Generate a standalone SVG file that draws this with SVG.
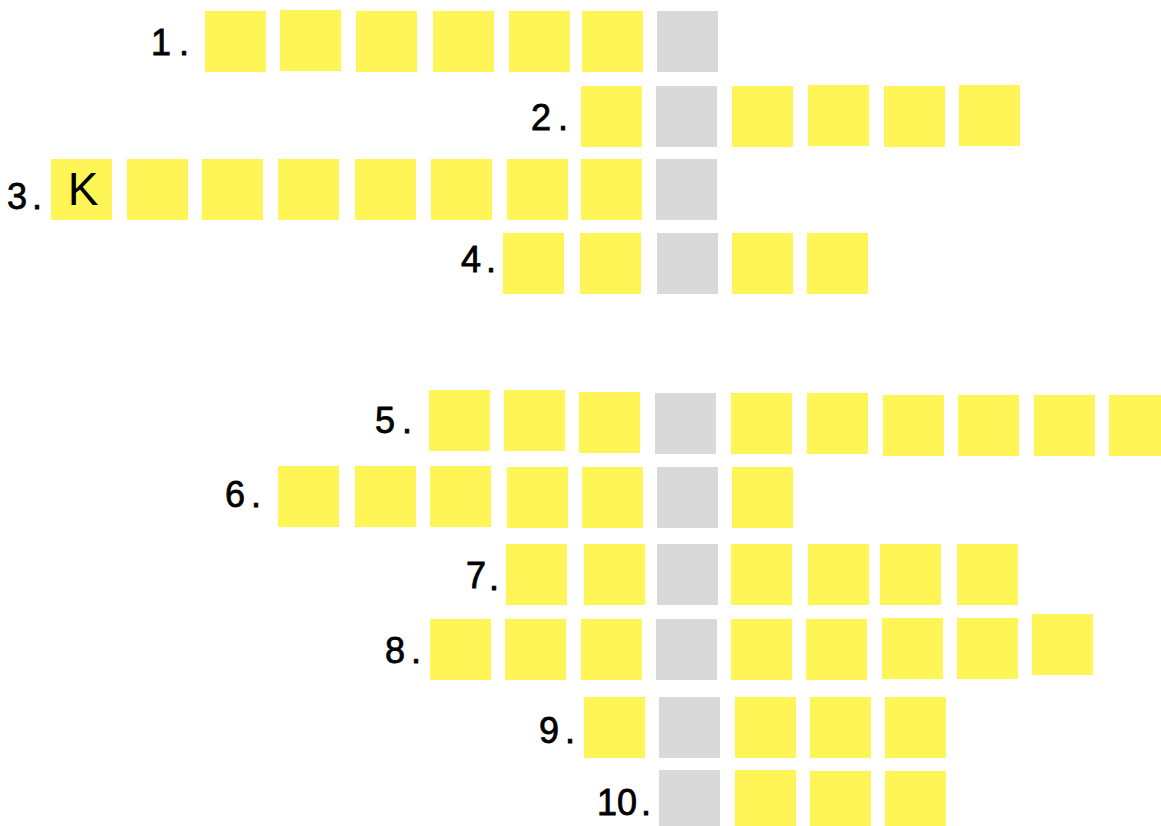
<svg xmlns="http://www.w3.org/2000/svg" width="1161" height="826" viewBox="0 0 1161 826">
<style>
.y{fill:#FFF556}
.g{fill:#D9D9D9}
.n{font-family:"Liberation Sans",Arial,sans-serif;font-size:36px;fill:#000;stroke:#000;stroke-width:0.8px;text-anchor:middle}
.k{font-family:"Liberation Sans",Arial,sans-serif;font-size:46px;fill:#000;text-anchor:middle}
</style>
<rect width="1161" height="826" fill="#fff"/>
<g id="row1">
<text class="n"><tspan x="161" y="55">1</tspan><tspan x="184" y="55">.</tspan></text>
<rect class="y" x="205" y="11" width="61" height="61"/>
<rect class="y" x="280" y="10" width="61" height="61"/>
<rect class="y" x="356" y="11" width="61" height="61"/>
<rect class="y" x="433" y="11" width="61" height="61"/>
<rect class="y" x="509" y="11" width="61" height="61"/>
<rect class="y" x="582" y="11" width="61" height="61"/>
<rect class="g" x="657" y="11" width="61" height="61"/>
</g>
<g id="row2">
<text class="n"><tspan x="541" y="130">2</tspan><tspan x="563" y="130">.</tspan></text>
<rect class="y" x="581" y="86" width="61" height="61"/>
<rect class="g" x="656" y="86" width="61" height="61"/>
<rect class="y" x="732" y="86" width="61" height="61"/>
<rect class="y" x="808" y="85" width="61" height="61"/>
<rect class="y" x="884" y="86" width="61" height="61"/>
<rect class="y" x="959" y="85" width="61" height="61"/>
</g>
<g id="row3">
<text class="n"><tspan x="17" y="209">3</tspan><tspan x="37" y="209">.</tspan></text>
<rect class="y" x="51" y="159" width="61" height="61"/>
<text class="k" x="83" y="205">K</text>
<rect class="y" x="127" y="159" width="61" height="61"/>
<rect class="y" x="202" y="159" width="61" height="61"/>
<rect class="y" x="278" y="159" width="61" height="61"/>
<rect class="y" x="355" y="159" width="61" height="61"/>
<rect class="y" x="431" y="159" width="61" height="61"/>
<rect class="y" x="507" y="159" width="61" height="61"/>
<rect class="y" x="581" y="159" width="61" height="61"/>
<rect class="g" x="656" y="159" width="61" height="61"/>
</g>
<g id="row4">
<text class="n"><tspan x="471" y="272">4</tspan><tspan x="491" y="272">.</tspan></text>
<rect class="y" x="503" y="233" width="61" height="61"/>
<rect class="y" x="580" y="233" width="61" height="61"/>
<rect class="g" x="657" y="233" width="61" height="61"/>
<rect class="y" x="732" y="233" width="61" height="61"/>
<rect class="y" x="807" y="233" width="61" height="61"/>
</g>
<g id="row5">
<text class="n"><tspan x="385" y="433">5</tspan><tspan x="407" y="433">.</tspan></text>
<rect class="y" x="429" y="390" width="61" height="61"/>
<rect class="y" x="504" y="390" width="61" height="61"/>
<rect class="y" x="579" y="392" width="61" height="61"/>
<rect class="g" x="655" y="393" width="61" height="61"/>
<rect class="y" x="731" y="393" width="61" height="61"/>
<rect class="y" x="807" y="393" width="61" height="61"/>
<rect class="y" x="883" y="395" width="61" height="61"/>
<rect class="y" x="958" y="395" width="61" height="61"/>
<rect class="y" x="1034" y="395" width="61" height="61"/>
<rect class="y" x="1109" y="395" width="61" height="61"/>
</g>
<g id="row6">
<text class="n"><tspan x="235" y="507">6</tspan><tspan x="256" y="507">.</tspan></text>
<rect class="y" x="278" y="466" width="61" height="61"/>
<rect class="y" x="355" y="466" width="61" height="61"/>
<rect class="y" x="430" y="466" width="61" height="61"/>
<rect class="y" x="507" y="467" width="61" height="61"/>
<rect class="y" x="582" y="467" width="61" height="61"/>
<rect class="g" x="657" y="467" width="61" height="61"/>
<rect class="y" x="732" y="467" width="61" height="61"/>
</g>
<g id="row7">
<text class="n"><tspan x="476" y="588">7</tspan><tspan x="494" y="590">.</tspan></text>
<rect class="y" x="506" y="544" width="61" height="61"/>
<rect class="y" x="584" y="544" width="61" height="61"/>
<rect class="g" x="657" y="544" width="61" height="61"/>
<rect class="y" x="731" y="544" width="61" height="61"/>
<rect class="y" x="808" y="544" width="61" height="61"/>
<rect class="y" x="880" y="544" width="61" height="61"/>
<rect class="y" x="957" y="544" width="61" height="61"/>
</g>
<g id="row8">
<text class="n"><tspan x="395" y="663">8</tspan><tspan x="416" y="663">.</tspan></text>
<rect class="y" x="430" y="619" width="61" height="61"/>
<rect class="y" x="505" y="619" width="61" height="61"/>
<rect class="y" x="581" y="619" width="61" height="61"/>
<rect class="g" x="656" y="619" width="61" height="61"/>
<rect class="y" x="731" y="619" width="61" height="61"/>
<rect class="y" x="806" y="619" width="61" height="61"/>
<rect class="y" x="882" y="618" width="61" height="61"/>
<rect class="y" x="957" y="618" width="61" height="61"/>
<rect class="y" x="1032" y="614" width="61" height="61"/>
</g>
<g id="row9">
<text class="n"><tspan x="549" y="743">9</tspan><tspan x="570" y="743">.</tspan></text>
<rect class="y" x="584" y="697" width="61" height="61"/>
<rect class="g" x="659" y="697" width="61" height="61"/>
<rect class="y" x="735" y="697" width="61" height="61"/>
<rect class="y" x="810" y="697" width="61" height="61"/>
<rect class="y" x="885" y="697" width="61" height="61"/>
</g>
<g id="row10">
<text class="n"><tspan x="617" y="815">10</tspan><tspan x="646" y="815">.</tspan></text>
<rect class="g" x="659" y="770" width="61" height="61"/>
<rect class="y" x="735" y="770" width="61" height="61"/>
<rect class="y" x="810" y="771" width="61" height="61"/>
<rect class="y" x="885" y="771" width="61" height="61"/>
</g>
<g id="connectors"/>
</svg>
